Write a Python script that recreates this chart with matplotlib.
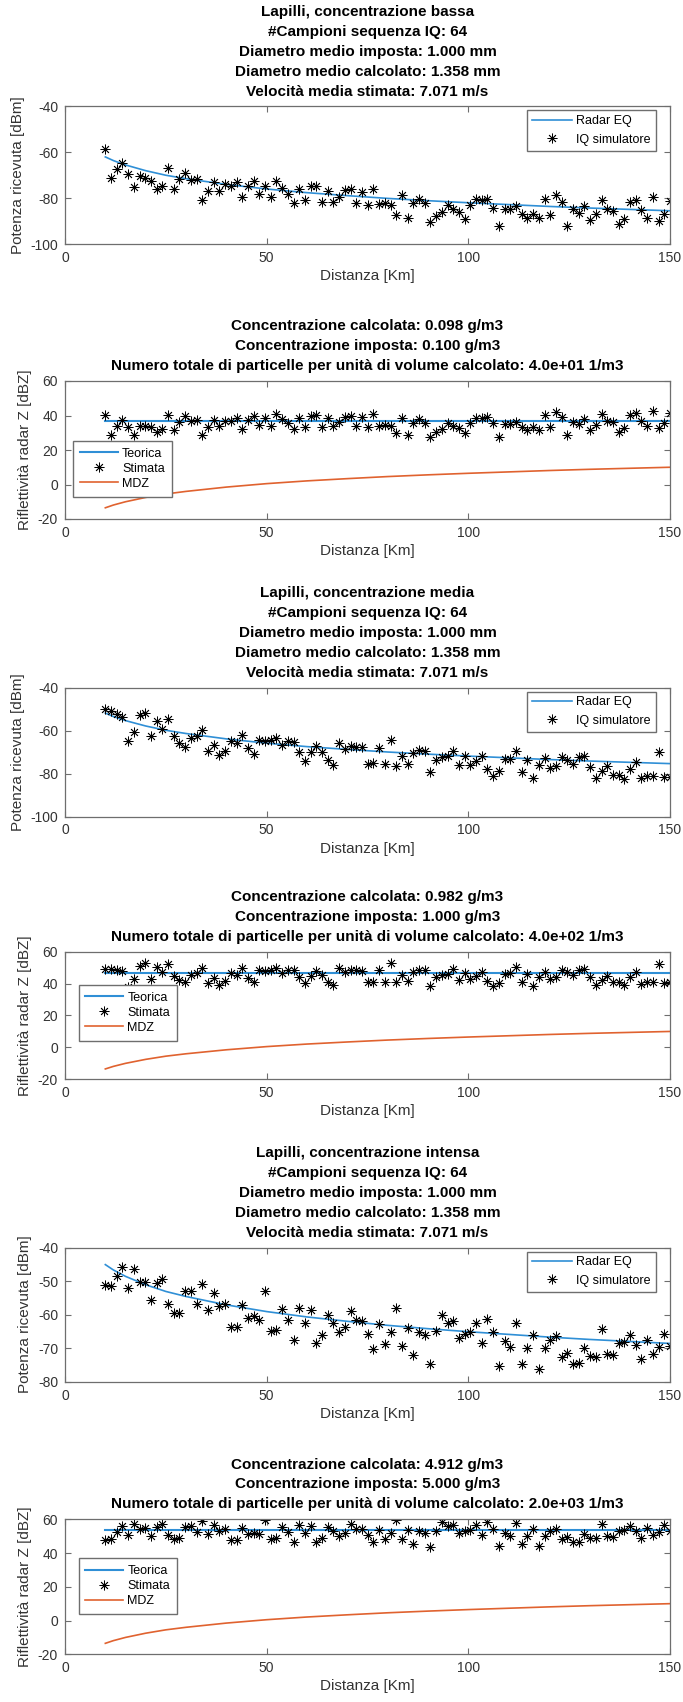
import numpy as np
import matplotlib
matplotlib.use('Agg')
import matplotlib.pyplot as plt

plt.rcParams['font.family'] = ['Liberation Sans', 'DejaVu Sans']
plt.rcParams['axes.unicode_minus'] = False

# 100 range gates between 10 and 150 km
distanza = np.linspace(10, 150, 100)

# theoretical curves read at a few distances
dist_teo = [10, 12, 15, 20, 25, 30, 40, 50, 60, 70, 80, 90, 100, 110, 120, 130, 140, 150]
radar_eq_bassa = [-62.0, -63.6, -65.5, -68.0, -70.0, -71.5, -74.0, -76.0, -77.6, -78.9,
                  -80.1, -81.1, -82.0, -82.8, -83.6, -84.3, -84.9, -85.5]
radar_eq_media = [-51.9, -53.5, -55.4, -57.9, -59.9, -61.4, -63.9, -65.9, -67.5, -68.8,
                  -70.0, -71.0, -71.9, -72.7, -73.5, -74.2, -74.8, -75.4]
radar_eq_intensa = [-45.1, -46.7, -48.6, -51.1, -53.1, -54.6, -57.1, -59.1, -60.7, -62.0,
                    -63.2, -64.2, -65.1, -65.9, -66.7, -67.4, -68.0, -68.6]
mdz = [-13.5, -11.9, -10.0, -7.5, -5.5, -4.0, -1.5, 0.5, 2.1, 3.4,
       4.6, 5.6, 6.5, 7.3, 8.1, 8.8, 9.4, 10.0]
z_teorica = [37.0, 46.9, 53.9]

# IQ simulator received power [dBm]
p_bassa = [-58.5, -71.4, -67.3, -64.7, -69.5, -75.0, -70.4, -71.2, -72.4, -75.8,
           -74.6, -66.9, -76.2, -71.8, -68.9, -72.1, -71.8, -81.0, -76.8, -73.0,
           -76.8, -73.9, -74.6, -72.9, -79.7, -74.6, -72.4, -78.3, -74.6, -79.3,
           -72.4, -75.6, -78.3, -81.9, -75.9, -80.9, -74.9, -74.5, -81.5, -76.8,
           -81.5, -79.7, -76.4, -76.1, -82.2, -77.2, -82.9, -75.8, -82.6, -82.3,
           -83.1, -87.5, -78.7, -88.8, -82.2, -80.2, -82.2, -90.4, -87.7, -86.0,
           -82.9, -84.8, -86.0, -89.1, -83.1, -80.4, -80.7, -80.4, -84.1, -92.1,
           -84.8, -84.8, -83.5, -87.0, -88.5, -87.0, -88.8, -80.4, -87.5, -78.7,
           -81.5, -92.1, -84.8, -86.3, -83.5, -89.5, -87.0, -80.6, -84.8, -85.6,
           -91.4, -88.9, -81.5, -80.6, -85.1, -88.5, -79.7, -89.9, -87.0, -81.2]
p_media = [-49.8, -50.9, -52.5, -53.8, -64.7, -60.8, -53.0, -51.7, -62.7, -55.8,
           -59.4, -54.8, -62.7, -65.9, -67.5, -63.6, -62.7, -59.7, -69.4, -66.6,
           -71.4, -69.4, -64.7, -65.8, -62.0, -68.1, -70.9, -64.2, -64.7, -64.4,
           -63.6, -66.7, -65.0, -65.5, -69.8, -74.1, -69.8, -67.0, -69.8, -73.8,
           -75.9, -65.9, -68.6, -67.0, -67.5, -67.9, -75.6, -75.3, -68.1, -75.6,
           -64.2, -76.4, -71.7, -75.6, -70.5, -68.9, -69.4, -79.2, -73.8, -72.5,
           -72.0, -69.4, -76.1, -72.0, -75.9, -74.1, -71.7, -77.7, -81.1, -78.8,
           -73.3, -73.3, -69.4, -79.2, -73.8, -81.9, -75.9, -72.8, -77.5, -76.4,
           -72.2, -73.6, -75.6, -72.2, -71.7, -76.9, -82.2, -78.8, -76.4, -80.6,
           -80.6, -82.7, -77.7, -74.8, -82.2, -81.1, -81.1, -69.8, -81.6, -81.4]
p_intensa = [-51.1, -51.6, -48.6, -45.8, -52.1, -46.5, -50.3, -50.3, -55.5, -50.6,
             -49.5, -56.7, -59.4, -59.4, -53.1, -53.1, -56.9, -50.8, -58.7, -53.6,
             -57.5, -56.7, -63.7, -63.7, -57.2, -60.9, -60.5, -61.7, -53.1, -64.9,
             -64.7, -58.4, -61.7, -67.6, -57.9, -62.5, -58.7, -68.4, -66.1, -60.0,
             -62.5, -65.3, -63.7, -59.0, -61.7, -61.9, -65.8, -70.4, -62.9, -68.9,
             -65.1, -58.0, -69.3, -64.0, -72.1, -65.1, -66.1, -74.6, -65.0, -60.0,
             -62.4, -61.9, -67.1, -65.8, -65.3, -62.5, -68.6, -61.2, -65.3, -75.3,
             -67.9, -69.8, -62.4, -74.6, -69.9, -66.1, -76.2, -70.1, -67.6, -66.3,
             -72.6, -71.4, -74.6, -74.4, -70.1, -72.3, -72.6, -64.4, -71.6, -72.1,
             -68.6, -68.1, -66.1, -69.1, -73.1, -67.6, -71.6, -69.8, -65.8, -69.3]

# estimated reflectivity [dBZ]
z_bassa = [40.5, 28.8, 33.9, 37.4, 33.4, 28.7, 33.9, 33.8, 33.2, 30.3,
           32.1, 40.3, 31.4, 36.3, 39.6, 36.8, 37.5, 28.6, 33.2, 37.3,
           33.9, 37.1, 36.7, 38.7, 32.2, 37.5, 40.0, 34.4, 38.3, 33.9,
           41.0, 38.0, 35.6, 32.2, 38.4, 33.6, 39.8, 40.4, 33.6, 38.5,
           34.0, 36.0, 39.4, 39.9, 34.0, 39.1, 33.6, 40.9, 34.2, 34.7,
           34.0, 29.8, 38.7, 28.8, 35.5, 37.7, 35.8, 27.7, 30.6, 32.4,
           35.6, 33.9, 32.8, 29.8, 35.9, 38.8, 38.6, 39.0, 35.4, 27.5,
           35.0, 35.1, 36.5, 33.1, 31.7, 33.3, 31.6, 40.1, 33.1, 42.0,
           39.3, 28.8, 36.2, 34.8, 37.7, 31.8, 34.4, 40.9, 36.8, 36.1,
           30.4, 32.9, 40.4, 41.4, 37.0, 33.7, 42.6, 32.5, 35.4, 41.3]
z_media = [49.0, 49.1, 48.5, 48.1, 38.0, 42.7, 51.1, 53.1, 42.7, 50.1,
           47.1, 52.2, 44.7, 42.0, 40.8, 45.1, 46.4, 49.7, 40.4, 43.5,
           39.1, 41.4, 46.4, 45.6, 49.7, 43.8, 41.3, 48.3, 48.0, 48.6,
           49.6, 46.7, 48.7, 48.4, 44.3, 40.2, 44.7, 47.7, 45.1, 41.3,
           39.4, 49.6, 47.0, 48.8, 48.5, 48.2, 40.7, 41.2, 48.5, 41.2,
           52.7, 40.7, 45.5, 41.8, 47.0, 48.8, 48.4, 38.7, 44.3, 45.7,
           46.3, 49.1, 42.5, 46.7, 42.9, 44.9, 47.4, 41.5, 38.2, 40.6,
           46.3, 46.4, 50.4, 40.7, 46.2, 38.2, 44.3, 47.5, 42.9, 44.1,
           48.4, 47.1, 45.2, 48.7, 49.3, 44.2, 39.0, 42.5, 45.0, 40.9,
           41.0, 38.9, 44.0, 47.0, 39.7, 40.9, 41.0, 52.4, 40.6, 40.9]
z_intensa = [47.9, 48.6, 52.6, 56.3, 50.8, 57.2, 54.0, 54.7, 50.1, 55.5,
             57.2, 50.5, 48.2, 48.7, 55.4, 55.8, 52.4, 58.8, 51.3, 56.7,
             53.2, 54.3, 47.6, 47.9, 54.7, 51.2, 51.9, 51.0, 59.8, 48.3,
             48.7, 55.2, 52.2, 46.5, 56.4, 52.0, 56.0, 46.5, 49.0, 55.3,
             53.0, 50.4, 52.1, 57.0, 54.5, 54.4, 50.7, 46.3, 53.9, 48.1,
             52.0, 59.3, 48.1, 53.6, 45.6, 52.8, 51.9, 43.5, 53.3, 58.4,
             56.1, 56.8, 51.7, 53.1, 53.7, 56.7, 50.7, 58.2, 54.2, 44.3,
             51.9, 50.1, 57.6, 45.5, 50.3, 54.2, 44.2, 50.4, 53.0, 54.4,
             48.2, 49.5, 46.4, 46.7, 51.1, 49.0, 48.8, 57.1, 50.0, 49.6,
             53.2, 53.7, 55.8, 52.9, 49.0, 54.6, 50.7, 52.6, 56.6, 53.2]

livelli = ['bassa', 'media', 'intensa']
conc_calc = ['0.098', '0.982', '4.912']
conc_imp = ['0.100', '1.000', '5.000']
n_part = ['4.0e+01', '4.0e+02', '2.0e+03']

W, H = 683, 1702
BLUE = '#2f8fd6'
ORANGE = '#e0622f'
GRAY = '#6e6e6e'
TXT = '#333333'
STAR = (8, 2, 0)

# axes top/bottom in pixels
ax_px = [(106.5, 244), (381, 519), (687.5, 816.5), (951.7, 1079.3), (1247.5, 1381.7), (1519.3, 1654.3)]
zleg_off = [(8.4, 22.3), (13.6, 38.6), (13.6, 40.0)]

fig = plt.figure(figsize=(W / 100, H / 100), dpi=100)


def make_axes(top, bottom):
    ax = fig.add_axes([65 / W, 1 - bottom / H, 605 / W, (bottom - top) / H])
    for s in ax.spines.values():
        s.set_color(GRAY)
        s.set_linewidth(0.9)
    ax.tick_params(direction='in', length=4, width=0.8, color=GRAY, labelsize=10,
                   labelcolor=TXT, top=True, right=True, pad=5)
    ax.set_xlim(0, 150)
    ax.set_xticks([0, 50, 100, 150])
    ax.set_xlabel('Distanza [Km]', fontsize=11, color=TXT, labelpad=3)
    return ax


def add_title(ax, lines):
    ax.annotate('\n'.join(lines), xy=(0.5, 1), xycoords='axes fraction', xytext=(0, 5.7),
                textcoords='offset points', ha='center', va='bottom', fontsize=11,
                fontweight='bold', linespacing=1.54)


p_series = [p_bassa, p_media, p_intensa]
p_teo = [radar_eq_bassa, radar_eq_media, radar_eq_intensa]
z_series = [z_bassa, z_media, z_intensa]

for k in range(3):
    # received power
    top, bottom = ax_px[2 * k]
    ax = make_axes(top, bottom)
    ax.plot(dist_teo, p_teo[k], color=BLUE, lw=1.2, label='Radar EQ')
    ax.plot(distanza, p_series[k], ls='none', marker=STAR, ms=7, mew=0.6, color='black',
            label='IQ simulatore')
    if k < 2:
        ax.set_ylim(-100, -40)
        ax.set_yticks([-100, -80, -60, -40])
    else:
        ax.set_ylim(-80, -40)
        ax.set_yticks([-80, -70, -60, -50, -40])
    ax.set_ylabel('Potenza ricevuta [dBm]', fontsize=11, color=TXT, labelpad=4)
    add_title(ax, ['Lapilli, concentrazione ' + livelli[k],
                   '#Campioni sequenza IQ: 64',
                   'Diametro medio imposta: 1.000 mm',
                   'Diametro medio calcolato: 1.358 mm',
                   'Velocità media stimata: 7.071 m/s'])
    h = bottom - top
    ax.legend(loc='upper right', bbox_to_anchor=(1 - 14 / 605, 1 - 4 / h), borderaxespad=0,
              fontsize=9, handlelength=3.2, handletextpad=0.35, labelspacing=0.5,
              borderpad=0.4, fancybox=False, framealpha=1, edgecolor=GRAY)

    # reflectivity
    top, bottom = ax_px[2 * k + 1]
    ax = make_axes(top, bottom)
    ax.plot([10, 150], [z_teorica[k], z_teorica[k]], color=BLUE, lw=1.5, label='Teorica')
    ax.plot(distanza, z_series[k], ls='none', marker=STAR, ms=7, mew=0.6, color='black',
            label='Stimata')
    ax.plot(dist_teo, mdz, color=ORANGE, lw=1.2, label='MDZ')
    ax.set_ylim(-20, 60)
    ax.set_yticks([-20, 0, 20, 40, 60])
    ax.set_ylabel('Riflettività radar Z [dBZ]', fontsize=11, color=TXT, labelpad=4)
    add_title(ax, ['Concentrazione calcolata: %s g/m3' % conc_calc[k],
                   'Concentrazione imposta: %s g/m3' % conc_imp[k],
                   'Numero totale di particelle per unità di volume calcolato: %s 1/m3' % n_part[k]])
    h = bottom - top
    dx, dy = zleg_off[k]
    ax.legend(loc='lower left', bbox_to_anchor=(dx / 605, dy / h), borderaxespad=0,
              fontsize=9, handlelength=3.0, handletextpad=0.35, labelspacing=0.25,
              borderpad=0.55, fancybox=False, framealpha=1, edgecolor=GRAY)

fig.savefig('out.png', dpi=100, facecolor='white')
